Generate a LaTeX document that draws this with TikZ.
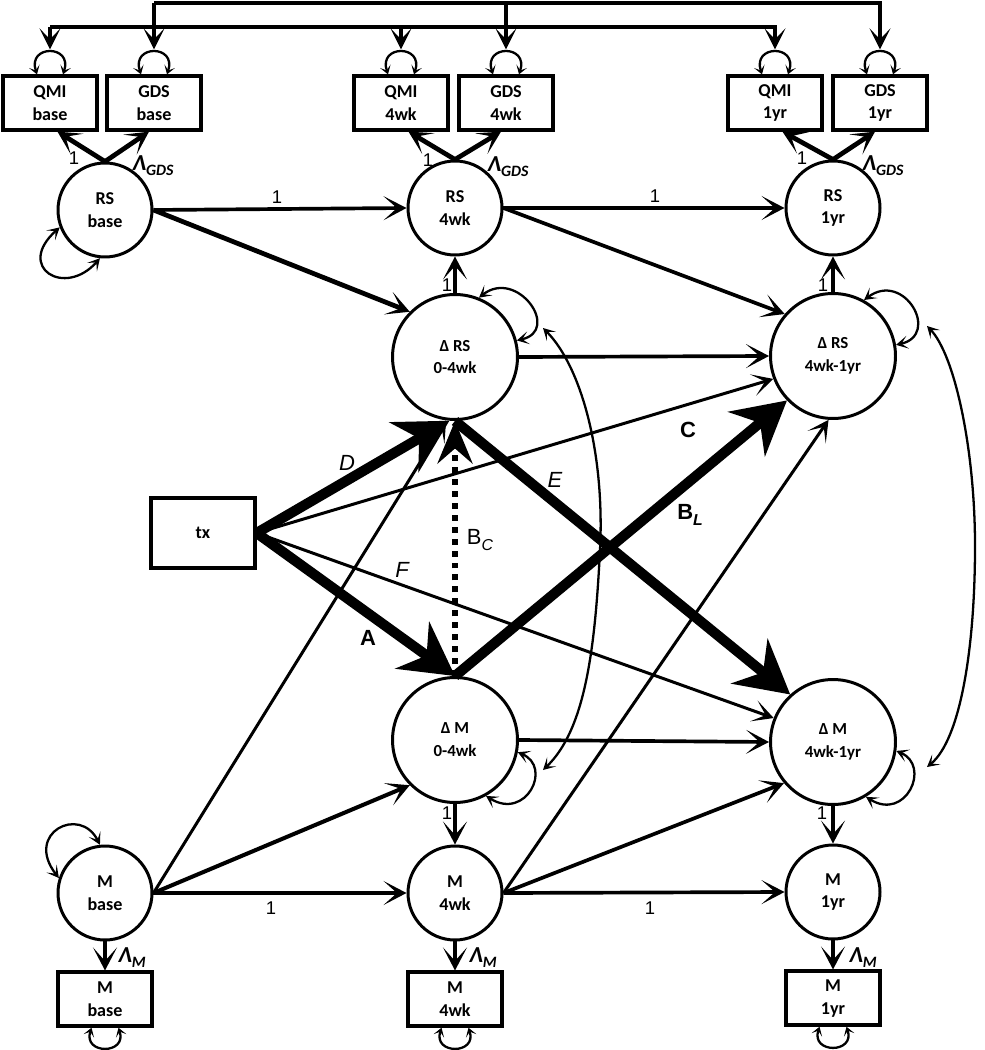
\documentclass[tikz,border=0pt]{standalone}
\usepackage{fontspec}
\setmainfont{Liberation Sans}
\newfontfamily\calib{Carlito}
\usetikzlibrary{positioning,arrows.meta}

\newcommand{\lamsub}[1]{Λ\raisebox{-0.45ex}{\fontsize{9}{9}\selectfont #1}}
\newcommand{\bsub}[1]{B\raisebox{-0.5ex}{\fontsize{9}{9}\selectfont\itshape #1}}

\begin{document}
\begin{tikzpicture}[
  x=0.02cm, y=-0.02cm, >=Stealth,
  lat/.style={circle, draw, line width=1.7pt, minimum size=1.88cm, inner sep=0pt,
              align=center, font=\calib\bfseries\fontsize{10.3}{13}\selectfont},
  dlat/.style={lat, minimum size=2.5cm, font=\calib\bfseries\fontsize{9.6}{13}\selectfont},
  obs/.style={draw, line width=1.9pt, minimum width=1.88cm, minimum height=1.08cm,
              inner sep=0pt, align=center, font=\calib\bfseries\fontsize{10.3}{13}\selectfont},
  arr/.style={-{Stealth[length=0.46cm, width=0.48cm, inset=0.27cm]}, line width=2.1pt},
  load/.style={arr, line width=2.7pt},
  thinarr/.style={-{Stealth[length=0.42cm, width=0.44cm, inset=0.25cm]}, line width=1.7pt},
  fatarr/.style={-{Stealth[length=1.05cm, width=1.15cm, inset=0.35cm]}, line width=5.8pt},
  dotarr/.style={-{Stealth[length=0.85cm, width=0.7cm, inset=0.3cm]}, line width=3.6pt,
                 dash pattern=on 3.4pt off 3.4pt},
  covar/.style={{Stealth[length=0.24cm, width=0.26cm, inset=0.13cm]}-{Stealth[length=0.24cm, width=0.26cm, inset=0.13cm]},
                line width=1.3pt},
  resid/.style={{Stealth[length=0.17cm, width=0.22cm, inset=0.09cm]}-{Stealth[length=0.17cm, width=0.22cm, inset=0.09cm]},
                line width=1.3pt},
  bus/.style={-{Stealth[length=0.42cm, width=0.42cm, inset=0.22cm]}, line width=2.1pt},
  one/.style={font=\fontsize{10.5}{12}\selectfont, inner sep=0pt},
  coef/.style={font=\itshape\fontsize{12.5}{14}\selectfont, inner sep=0pt},
  lam/.style={font=\calib\bfseries\itshape\fontsize{13}{14}\selectfont, inner sep=0pt},
]
\useasboundingbox (0,0) rectangle (984,1050);

% indicators
\node[obs] (qb) at (50,103)  {QMI\\base};
\node[obs] (gb) at (154,103) {GDS\\base};
\node[obs] (q4) at (401,103) {QMI\\4wk};
\node[obs] (g4) at (506,103) {GDS\\4wk};
\node[obs] (q1) at (775,103) {QMI\\1yr};
\node[obs] (g1) at (880,103) {GDS\\1yr};

% latent levels and changes
\node[lat]  (rsb)  at (105,210) {RS\\base};
\node[lat]  (rs4)  at (455,208) {RS\\4wk};
\node[lat]  (rs1)  at (833,208) {RS\\1yr};
\node[dlat] (drs1) at (455,357) {Δ RS\\0-4wk};
\node[dlat] (drs2) at (833,356) {Δ RS\\4wk-1yr};
\node[obs, minimum width=2.08cm, minimum height=1.4cm] (tx) at (203,533) {tx};
\node[dlat] (dm1)  at (455,740) {Δ M\\0-4wk};
\node[dlat] (dm2)  at (833,742) {Δ M\\4wk-1yr};
\node[lat]  (mb)   at (105,893) {M\\base};
\node[lat]  (m4)   at (455,893) {M\\4wk};
\node[lat]  (m1)   at (833,892) {M\\1yr};
\node[obs, below=0.58cm of mb] (mbx) {M\\base};
\node[obs, below=0.58cm of m4] (m4x) {M\\4wk};
\node[obs, below=0.58cm of m1] (m1x) {M\\1yr};

% residual correlations along the top
\coordinate (bus1) at (0,3);
\coordinate (bus2) at (0,27);
\foreach \b in {qb,gb,q4,g4,q1,g1}{
  \coordinate (\b-r) at ([yshift=0.5cm]\b.north);
  \draw[resid] ([xshift=-0.26cm]\b.north) .. controls +(-10,-30) and +(10,-30) .. ([xshift=0.26cm]\b.north);
}
\foreach \b in {mbx,m4x,m1x}
  \draw[resid] ([xshift=-0.27cm]\b.south) .. controls +(-9,27) and +(9,27) .. ([xshift=0.27cm]\b.south);
\draw[bus] (gb-r |- bus1) -- (gb-r);
\draw[bus] (gb-r |- bus1) -- (g1-r |- bus1) -- (g1-r);
\draw[bus] (g4-r |- bus1) -- (g4-r);
\draw[bus] (qb-r |- bus2) -- (qb-r);
\draw[bus] (qb-r |- bus2) -- (q1-r |- bus2) -- (q1-r);
\draw[bus] (q4-r |- bus2) -- (q4-r);

% loadings
\draw[load] (rsb.north) -- ([xshift=0.15cm]qb.south);
\draw[load] (rsb.north) -- ([xshift=-0.1cm]gb.south);
\draw[load] (rs4.north) -- ([xshift=0.15cm]q4.south);
\draw[load] (rs4.north) -- ([xshift=-0.1cm]g4.south);
\draw[load] (rs1.north) -- ([xshift=0.15cm]q1.south);
\draw[load] (rs1.north) -- ([xshift=-0.1cm]g1.south);
\draw[load] (mb.south) -- (mbx.north);
\draw[load] (m4.south) -- (m4x.north);
\draw[load] (m1.south) -- (m1x.north);

% structural paths
\draw[arr] (rsb.east) -- (rs4.west);
\draw[arr] (rs4.east) -- (rs1.west);
\draw[load] (rsb.east) -- (drs1.135);
\draw[arr] (rs4.east) -- (drs2.139);
\draw[load] (drs1.north) -- (rs4.south);
\draw[load] (drs2.north) -- (rs1.south);
\draw[arr] (drs1.east) -- (drs2.west);
\draw[thinarr] (tx.east) -- (drs2.201);
\draw[thinarr] (tx.east) -- (dm2.158);
\draw[thinarr] (mb.east) -- (drs1.262);
\draw[arr, line width=2.3pt] (mb.east) -- (dm1.225);
\draw[arr] (mb.east) -- (m4.west);
\draw[thinarr] (m4.east) -- (drs2.266);
\draw[arr] (m4.east) -- (dm2.220);
\draw[arr] (m4.east) -- (m1.west);
\draw[arr] (dm1.east) -- (dm2.west);
\draw[load] (dm1.south) -- (m4.north);
\draw[load] (dm2.south) -- (m1.north);
\draw[fatarr] (tx.east) -- (drs1.265);
\draw[fatarr] (tx.east) -- (dm1.north);
\draw[fatarr] (dm1.north) -- (drs2.224);
\draw[fatarr] (drs1.south) -- (dm2.132);
\draw[dotarr] (dm1.north) -- (drs1.south);

% variances
\draw[covar] (drs1.68) .. controls +(38,-30) and +(45,-10) .. (drs1.15);
\draw[covar] (drs2.61) .. controls +(40,-30) and +(45,-10) .. (drs2.10);
\draw[covar] (dm1.-11) .. controls +(35,15) and +(40,25) .. (dm1.-61);
\draw[covar] (dm2.-8) .. controls +(35,15) and +(40,25) .. (dm2.-59);
\draw[covar] (rsb.201) .. controls +(-45,40) and +(-35,40) .. (rsb.264);
\draw[covar] (mb.162) .. controls +(-35,-45) and +(-20,-40) .. (mb.96);

% covariances of changes
\coordinate (cv1a) at (543,328);
\coordinate (cv1b) at (543,770);
\coordinate (cv2a) at (927,326);
\coordinate (cv2b) at (927,767);
\draw[covar] (cv1a) .. controls (580,365) and (605,450) .. (600,550)
                    .. controls (595,650) and (585,730) .. (cv1b);
\draw[covar] (cv2a) .. controls (955,355) and (975,450) .. (975,546)
                    .. controls (975,650) and (960,740) .. (cv2b);

% labels
\node[one] (o1) at (74,158)  {1};
\node[one] (o2) at (428,160) {1};
\node[one] (o3) at (802,158) {1};
\node[one] (o4) at (277,197) {1};
\node[one] (o5) at (655,196) {1};
\node[one] (o6) at (447,285) {1};
\node[one] (o7) at (823,285) {1};
\node[one] (o8) at (447,813) {1};
\node[one] (o9) at (822,813) {1};
\node[one] (o10) at (271,908) {1};
\node[one] (o11) at (650,908) {1};
\node[lam] (lg1) at (153,166) {\lamsub{GDS}};
\node[lam] (lg2) at (508,167) {\lamsub{GDS}};
\node[lam] (lg3) at (883,166) {\lamsub{GDS}};
\node[lam] (lm1) at (132,958) {\lamsub{M}};
\node[lam] (lm2) at (483,958) {\lamsub{M}};
\node[lam] (lm3) at (863,958) {\lamsub{M}};
\node[coef] (cd) at (347,463) {D};
\node[coef] (ce) at (555,480) {E};
\node[coef] (cf) at (402,570) {F};
\node[coef, font=\bfseries\fontsize{12.5}{14}\selectfont] (ca) at (368,638) {A};
\node[coef, font=\bfseries\fontsize{12.5}{14}\selectfont] (cc) at (688,430) {C};
\node[coef, font=\fontsize{12.5}{14}\selectfont] (cbc) at (480,540) {\bsub{C}};
\node[coef, font=\bfseries\fontsize{12.5}{14}\selectfont] (cbl) at (690,515) {\bsub{L}};
\end{tikzpicture}
\end{document}
